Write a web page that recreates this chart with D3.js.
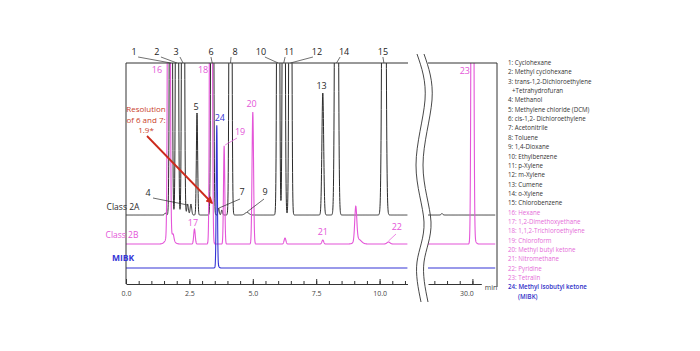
<!DOCTYPE html>
<html lang="en">
  <head>
    <meta charset="utf-8">
    <title>Residual solvents chromatogram</title>
    <script src="https://cdn.jsdelivr.net/npm/d3@7"></script>
    <style>
      body { margin: 0; background: #fff; }
      text { font-family: "Open Sans", sans-serif; }
    </style>
  </head>
  <body>
    <script>

    var w = 700;
    var h = 351;

    // peaks: retention time (min), height, sd (min)
    var classA_rt = [1.55, 1.77, 2.01, 2.25, 2.43, 2.56, 2.8, 3.4, 3.65, 3.78, 4.12, 4.77, 6.0, 6.22, 6.48, 7.76, 8.3, 10.17];
    var classA_ht = [2, 1000, 1000, 1000, 11, 11, 102, 1000, 7, 5, 1000, 2.5, 1000, 1000, 1000, 122, 1000, 1000];
    var classA_sd = [0.03, 0.035, 0.035, 0.035, 0.03, 0.03, 0.025, 0.035, 0.025, 0.025, 0.035, 0.08, 0.035, 0.035, 0.035, 0.035, 0.045, 0.05];
    var classA_rt2 = [28.8];
    var classA_ht2 = [1.5];
    var classA_sd2 = [0.03];

    var classB_rt = [1.69, 1.72, 1.86, 2.7, 3.35, 3.87, 5.0, 6.27, 7.76, 9.06, 9.15, 10.35];
    var classB_ht = [1000, 10, 5, 15, 1000, 98, 132, 6, 4, 34, 5, 2];
    var classB_sd = [0.035, 0.12, 0.03, 0.03, 0.035, 0.025, 0.03, 0.035, 0.035, 0.04, 0.12, 0.06];
    var classB_rt2 = [30.0, 30.07];
    var classB_ht2 = [1000, 4];
    var classB_sd2 = [0.035, 0.06];

    var mibk_rt = [3.58, 3.6];
    var mibk_ht = [140, 3];
    var mibk_sd = [0.022, 0.05];

    // peak numbers above the frame: label, label time, peak time
    var topNames = ["1", "2", "3", "6", "8", "10", "11", "12", "14", "15"];
    var topLabelT = [0.32, 1.22, 1.97, 3.35, 4.3, 5.32, 6.43, 7.53, 8.6, 10.13];
    var topPeakT = [1.77, 2.01, 2.25, 3.4, 4.12, 6.0, 6.22, 6.48, 8.3, 10.17];

    var majorTicks = [0, 2.5, 5, 7.5, 10];
    var minorTicks = d3.range(0, 11.01, 0.5);
    var rightMinor = [28.5, 29, 29.5, 30];
    var rightMajor = [30];

    var legendItems = [
      "1: Cyclohexane", "2: Methyl cyclohexane", "3: trans-1,2-Dichloroethylene", "+Tetrahydrofuran",
      "4: Methanol", "5: Methylene chloride (DCM)", "6: cis-1,2- Dichloroethylene", "7: Acetonitrile",
      "8: Toluene", "9: 1,4-Dioxane", "10: Ethylbenzene", "11: p-Xylene", "12: m-Xylene", "13: Cumene",
      "14: o-Xylene", "15: Chlorobenzene", "16: Hexane", "17: 1,2-Dimethoxyethane",
      "18: 1,1,2-Trichloroethylene", "19: Chloroform", "20: Methyl butyl ketone", "21: Nitromethane",
      "22: Pyridine", "23: Tetralin", "24: Methyl isobutyl ketone", "(MIBK)"
    ];
    var legendGroup = ["a","a","a","a","a","a","a","a","a","a","a","a","a","a","a","a",
                       "b","b","b","b","b","b","b","b","m","m"];

    var black = "#2b2b2b";
    var pink = "#e455d8";
    var blue = "#3434d6";
    var red = "#cc2a1c";
    var colorOf = { a: "#333", b: "#e56ad8", m: "#3030c8" };

    var xLeft = d3.scaleLinear().domain([0, 11.1]).range([126, 407.5]);
    var xRight = d3.scaleLinear().domain([28.25, 30.35]).range([428, 481.3]);
    var y = d3.scaleLinear().domain([0, 221]).range([284, 63]);

    var offA = 69, offB = 40, offM = 16;

    function trace(rt, ht, sd, t0, t1) {
      return d3.range(t0, t1, 0.004).map(function(t) {
        var s = 0;
        for (var i = 0; i < rt.length; i++) {
          s += ht[i] * Math.exp(-0.5 * Math.pow((t - rt[i]) / sd[i], 2));
        }
        return [t, Math.min(s, 400)];
      });
    }

    function lineFor(xs, off) {
      return d3.line()
               .x(function(d) { return xs(d[0]); })
               .y(function(d) { return y(d[1] + off); });
    }

    var svg = d3.select("body")
                .append("svg")
                .attr("width", w)
                .attr("height", h);

    var defs = svg.append("defs");
    defs.append("clipPath").attr("id", "clipL")
        .append("rect").attr("x", 126).attr("y", 63).attr("width", 282).attr("height", 230);
    defs.append("clipPath").attr("id", "clipR")
        .append("rect").attr("x", 428).attr("y", 63).attr("width", 69).attr("height", 230);
    defs.append("marker")
        .attr("id", "arrow")
        .attr("viewBox", "0 0 10 10")
        .attr("refX", 8).attr("refY", 5)
        .attr("markerWidth", 4).attr("markerHeight", 4)
        .attr("orient", "auto")
        .append("path").attr("d", "M0,0L10,5L0,10Z").attr("fill", red);

    // traces
    var left = svg.append("g").attr("clip-path", "url(#clipL)");
    var right = svg.append("g").attr("clip-path", "url(#clipR)");

    var series = [
      { rt: classA_rt, ht: classA_ht, sd: classA_sd, rt2: classA_rt2, ht2: classA_ht2, sd2: classA_sd2, off: offA, c: black, sw: 1 },
      { rt: classB_rt, ht: classB_ht, sd: classB_sd, rt2: classB_rt2, ht2: classB_ht2, sd2: classB_sd2, off: offB, c: pink, sw: 1.1 },
      { rt: mibk_rt, ht: mibk_ht, sd: mibk_sd, rt2: [], ht2: [], sd2: [], off: offM, c: blue, sw: 1.1 }
    ];

    series.forEach(function(s) {
      left.append("path")
          .attr("d", lineFor(xLeft, s.off)(trace(s.rt, s.ht, s.sd, 0, 11.1)))
          .attr("fill", "none")
          .attr("stroke", s.c)
          .attr("stroke-width", s.sw);
      right.append("path")
           .attr("d", lineFor(xRight, s.off)(trace(s.rt2, s.ht2, s.sd2, 28.25, 30.9)))
           .attr("fill", "none")
           .attr("stroke", s.c)
           .attr("stroke-width", s.sw);
    });

    // frame
    var frame = svg.append("g").attr("stroke", "#333").attr("stroke-width", 1).attr("fill", "none");
    frame.append("path").attr("d", "M126,284V63H408");
    frame.append("path").attr("d", "M428,63H497V287");

    // axis break
    var wave = [[417, 54], [425, 100], [416, 165], [424, 222], [417, 262], [421, 302]];
    var waveLine = d3.line().curve(d3.curveNatural);
    [0, 7].forEach(function(dx) {
      frame.append("path")
           .attr("d", waveLine(wave.map(function(p) { return [p[0] + dx, p[1]]; })))
           .attr("stroke-width", 0.9);
    });

    // axes
    function styleAxis(g) {
      g.selectAll("line").attr("stroke", "#333");
      g.selectAll("path").attr("stroke", "#333");
      g.selectAll("text").attr("fill", "#444").attr("font-size", "7px");
    }

    svg.append("g")
       .attr("transform", "translate(0,284)")
       .call(d3.axisBottom(xLeft).tickValues(minorTicks).tickSizeInner(-3).tickSizeOuter(0).tickFormat(""))
       .call(styleAxis);
    svg.append("g")
       .attr("transform", "translate(0,284)")
       .call(d3.axisBottom(xLeft).tickValues(majorTicks).tickSizeInner(-5).tickSizeOuter(0)
             .tickPadding(7).tickFormat(d3.format(".1f")))
       .call(styleAxis)
       .select(".domain").remove();

    svg.append("g")
       .attr("transform", "translate(0,284)")
       .call(d3.axisBottom(xRight).tickValues(rightMinor).tickSizeInner(-3).tickSizeOuter(0).tickFormat(""))
       .call(styleAxis);
    var rAx = svg.append("g")
       .attr("transform", "translate(0,284)")
       .call(d3.axisBottom(xRight).tickValues(rightMajor).tickSizeInner(-5).tickSizeOuter(0)
             .tickPadding(7).tickFormat(d3.format(".1f")))
       .call(styleAxis);
    rAx.select(".domain").remove();
    rAx.selectAll("text").attr("dx", -6);

    svg.append("text").attr("x", 491).attr("y", 290).attr("text-anchor", "middle")
       .attr("font-size", "7px").attr("fill", "#444").text("min");

    // peak numbers above the frame
    var topG = svg.append("g");
    topNames.forEach(function(n, i) {
      var lx = xLeft(topLabelT[i]), px = xLeft(topPeakT[i]);
      topG.append("text").attr("x", lx).attr("y", 55).attr("text-anchor", "middle")
          .attr("font-size", "9px").attr("fill", "#222").text(n);
      topG.append("line")
          .attr("x1", lx + (px > lx + 3 ? 4 : (px < lx - 3 ? -4 : 0))).attr("y1", 57)
          .attr("x2", px).attr("y2", 63)
          .attr("stroke", "#333").attr("stroke-width", 0.7);
    });

    // labels inside the plot
    function label(t, yy, txt, c, xs) {
      svg.append("text").attr("x", (xs || xLeft)(t)).attr("y", yy).attr("text-anchor", "middle")
         .attr("font-size", "9px").attr("fill", c).text(txt);
    }
    label(2.76, 110, "5", black);
    label(7.71, 89, "13", black);
    label(0.87, 196, "4", black);
    label(4.58, 195, "7", black);
    label(5.48, 195, "9", black);
    label(3.7, 121, "24", blue);
    label(4.5, 135, "19", pink);
    label(4.95, 107, "20", pink);
    label(1.22, 73, "16", pink);
    label(3.04, 73, "18", pink);
    label(2.64, 226, "17", pink);
    label(7.76, 235, "21", pink);
    label(10.68, 230, "22", pink);
    label(29.7, 74, "23", pink, xRight);

    function leader(x1, y1, x2, y2, c) {
      svg.append("line").attr("x1", x1).attr("y1", y1).attr("x2", x2).attr("y2", y2)
         .attr("stroke", c).attr("stroke-width", 0.7);
    }
    leader(153, 198, xLeft(2.43), 205, black);
    leader(240, 199, xLeft(3.67), 208, black);
    leader(264, 199, xLeft(4.77), 212, black);
    leader(237, 138, xLeft(3.87) + 1, 145, pink);
    leader(396, 234, xLeft(10.35), 241, pink);

    // trace names
    svg.append("text").attr("x", 123).attr("y", 210).attr("text-anchor", "middle")
       .attr("font-size", "8.5px").attr("fill", black).text("Class 2A");
    svg.append("text").attr("x", 122).attr("y", 238).attr("text-anchor", "middle")
       .attr("font-size", "8.5px").attr("fill", pink).text("Class 2B");
    svg.append("text").attr("x", 123).attr("y", 261).attr("text-anchor", "middle")
       .attr("font-size", "8.5px").attr("font-weight", "bold").attr("fill", blue).text("MIBK");

    // resolution note
    var note = svg.append("text").attr("text-anchor", "middle").attr("font-size", "8px").attr("fill", "#c9402a");
    ["Resolution", "of 6 and 7:", "1.9*"].forEach(function(s, i) {
      note.append("tspan").attr("x", 146).attr("y", 112 + i * 10.5).text(s);
    });
    svg.append("line")
       .attr("x1", 147).attr("y1", 136)
       .attr("x2", 212).attr("y2", 203)
       .attr("stroke", red).attr("stroke-width", 1.8)
       .attr("marker-end", "url(#arrow)");

    // legend
    svg.append("g").selectAll("text")
       .data(legendItems)
       .enter()
       .append("text")
       .attr("x", function(d) { return d === "+Tetrahydrofuran" ? 512 : (d === "(MIBK)" ? 518 : 508); })
       .attr("y", function(d, i) { return 65 + i * 9.35; })
       .attr("font-size", "6.2px")
       .attr("fill", function(d, i) { return colorOf[legendGroup[i]]; })
       .attr("font-weight", function(d, i) { return legendGroup[i] === "m" ? 600 : 400; })
       .text(function(d) { return d; });

    </script>
  </body>
</html>
